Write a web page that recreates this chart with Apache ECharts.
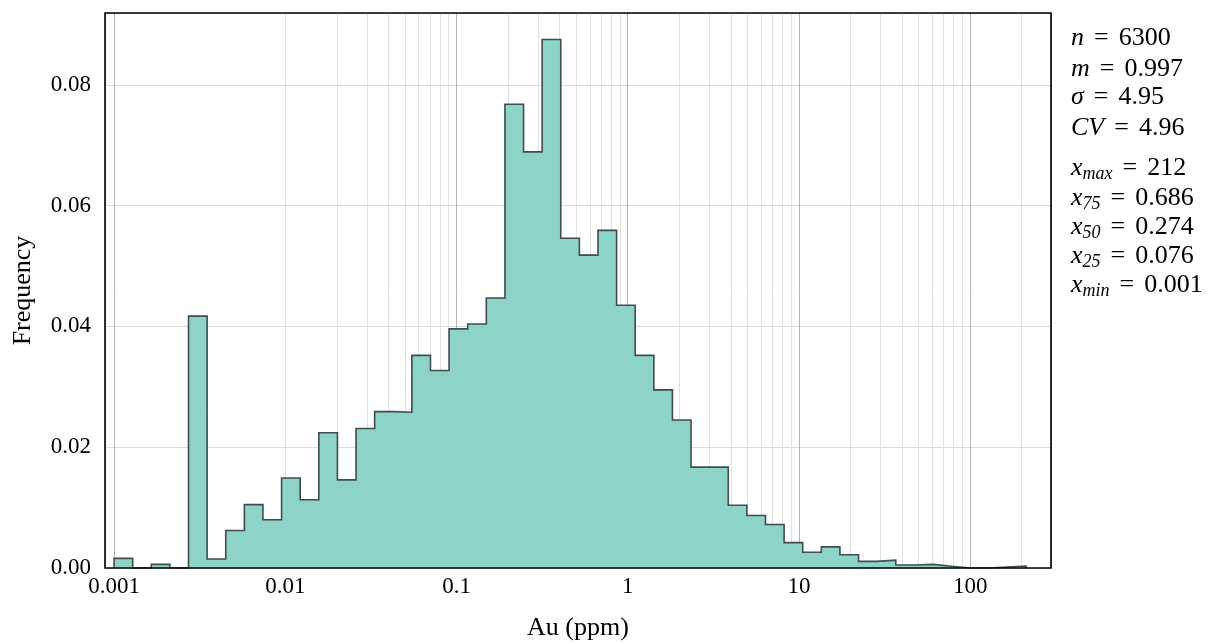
<!DOCTYPE html>
<html>
<head>
<meta charset="utf-8">
<title>Au (ppm) histogram</title>
<script src="https://cdn.jsdelivr.net/npm/echarts@6/dist/echarts.min.js"></script>
<style>
  html, body { margin: 0; padding: 0; background: #ffffff; }
  #chart { width: 1224px; height: 644px; }
</style>
</head>
<body>
<div id="chart"></div>
<script>
// ---- data -------------------------------------------------------------
// Histogram of Au grades, log-spaced bins between the sample min and max.
const sampleMin = 0.001;
const sampleMax = 212;
const binCount = 49;

// Relative frequency of each bin (left to right).
const frequency = [
  0.0016, 0.0, 0.0006, 0.0, 0.0417, 0.0015, 0.0062, 0.0105, 0.0080, 0.0149,
  0.0113, 0.0224, 0.0146, 0.0231, 0.0259, 0.0258, 0.0352, 0.0327, 0.0396, 0.0404,
  0.0447, 0.0768, 0.0689, 0.0875, 0.0546, 0.0518, 0.0559, 0.0435, 0.0352, 0.0295,
  0.0245, 0.0167, 0.0167, 0.0104, 0.0087, 0.0072, 0.0042, 0.0026, 0.0035, 0.0022,
  0.0011, 0.0013, 0.0005, 0.0006, 0.0003, 0.0, 0.0, 0.00016, 0.0003
];

// Summary statistics shown beside the plot: symbol, subscript, value.
const statSymbols   = ['n', 'm', 'σ', 'CV', 'x', 'x', 'x', 'x', 'x'];
const statSubscript = ['', '', '', '', 'max', '75', '50', '25', 'min'];
const statValues    = ['6300', '0.997', '4.95', '4.96', '212', '0.686', '0.274', '0.076', '0.001'];

// Axis ticks.
const xTickValues = [0.001, 0.01, 0.1, 1, 10, 100];
const yTickValues = [0.00, 0.02, 0.04, 0.06, 0.08];

// ---- layout -----------------------------------------------------------
const GRID = { left: 105, top: 13, right: 1051, bottom: 568 };
const X_EXTENT = [Math.pow(10, -3.053), Math.pow(10, 2.472)];
const Y_EXTENT = [0, 0.0919];
const STAT_X = 1071;
const STAT_Y = [38, 69, 97, 128, 168, 198, 227, 256, 285];

// Bin edges: geometric spacing between min and max.
const lo = Math.log10(sampleMin), hi = Math.log10(sampleMax);
const binEdges = [];
for (let i = 0; i <= binCount; i++) binEdges.push(Math.pow(10, lo + (hi - lo) * i / binCount));

// Step outline of the histogram (closed down to zero at both ends).
const stepPoints = [[binEdges[0], 0]];
frequency.forEach((f, i) => stepPoints.push([binEdges[i], f]));
stepPoints.push([binEdges[binCount], frequency[binCount - 1]]);
stepPoints.push([binEdges[binCount], 0]);

// Minor log grid lines (2..9 within each decade).
const minorLines = [];
for (let d = -4; d <= 3; d++) {
  for (let k = 2; k <= 9; k++) {
    const v = k * Math.pow(10, d);
    if (v > X_EXTENT[0] && v < X_EXTENT[1]) minorLines.push({ xAxis: v });
  }
}

const isTick = (v, list) => list.some(t => Math.abs(v - t) <= Math.abs(t) * 1e-6 + 1e-9);

const SERIF = '"Liberation Serif", "DejaVu Serif", serif';

// Statistics block as rich text (math-style: italic symbols, spaced relation).
const statGraphics = statSymbols.map((sym, i) => {
  const sub = statSubscript[i] ? '{s|' + statSubscript[i] + '}' : '';
  return {
    type: 'text',
    x: STAT_X,
    y: STAT_Y[i],
    z: 100,
    style: {
      text: '{v|' + sym + '}' + sub + '{e|=}{t|' + statValues[i] + '}',
      verticalAlign: 'middle',
      align: 'left',
      rich: {
        v: { fontFamily: SERIF, fontStyle: 'italic', fontSize: 26, lineHeight: 30, fill: '#000' },
        s: { fontFamily: SERIF, fontStyle: 'italic', fontSize: 18, lineHeight: 17, verticalAlign: 'bottom', fill: '#000' },
        e: { fontFamily: SERIF, fontSize: 26, lineHeight: 30, padding: [0, 10, 0, 10], fill: '#000' },
        t: { fontFamily: SERIF, fontSize: 26, lineHeight: 30, fill: '#000' }
      }
    }
  };
});

const chart = echarts.init(document.getElementById('chart'), null, { renderer: 'canvas' });

chart.setOption({
  animation: false,
  backgroundColor: '#ffffff',
  grid: {
    left: GRID.left,
    top: GRID.top,
    width: GRID.right - GRID.left,
    height: GRID.bottom - GRID.top,
    containLabel: false,
    outerBoundsMode: 'none'
  },
  xAxis: {
    type: 'log',
    logBase: 10,
    min: X_EXTENT[0],
    max: X_EXTENT[1],
    name: 'Au (ppm)',
    nameLocation: 'middle',
    nameGap: 47,
    nameTextStyle: { fontFamily: SERIF, fontSize: 26, color: '#000' },
    axisLine: { show: false },
    axisTick: { show: false },
    axisLabel: {
      margin: 7,
      fontFamily: SERIF,
      fontSize: 23,
      color: '#000',
      formatter: v => isTick(v, xTickValues) ? String(Number(v.toPrecision(3))) : ''
    },
    splitLine: { show: true, lineStyle: { color: '#b4b4b4', width: 1 } }
  },
  yAxis: {
    type: 'value',
    min: Y_EXTENT[0],
    max: Y_EXTENT[1],
    interval: 0.02,
    name: 'Frequency',
    nameLocation: 'middle',
    nameGap: 69,
    nameTextStyle: { fontFamily: SERIF, fontSize: 26, color: '#000' },
    axisLine: { show: false },
    axisTick: { show: false },
    axisLabel: {
      margin: 14,
      fontFamily: SERIF,
      fontSize: 23,
      color: '#000',
      formatter: v => isTick(v, yTickValues) ? v.toFixed(2) : ''
    },
    splitLine: { show: true, lineStyle: { color: '#dcdcdc', width: 1 } }
  },
  graphic: [
    {
      type: 'rect',
      z: 100,
      silent: true,
      shape: { x: GRID.left, y: GRID.top, width: GRID.right - GRID.left, height: GRID.bottom - GRID.top },
      style: { fill: null, stroke: '#000000', lineWidth: 1.6 }
    }
  ].concat(statGraphics),
  series: [
    {
      // minor decade grid lines, kept behind the histogram
      type: 'line',
      z: 1,
      data: [],
      silent: true,
      markLine: {
        z: 1,
        silent: true,
        symbol: ['none', 'none'],
        label: { show: false },
        animation: false,
        lineStyle: { color: '#e0e0e0', width: 1, type: 'solid' },
        data: minorLines
      }
    },
    {
      type: 'line',
      z: 2,
      step: 'end',
      data: stepPoints,
      showSymbol: false,
      symbol: 'none',
      silent: true,
      lineStyle: { color: '#3f4d4d', width: 1.6, join: 'miter' },
      areaStyle: { color: '#8dd3c7', opacity: 1 }
    }
  ]
});
</script>
</body>
</html>
